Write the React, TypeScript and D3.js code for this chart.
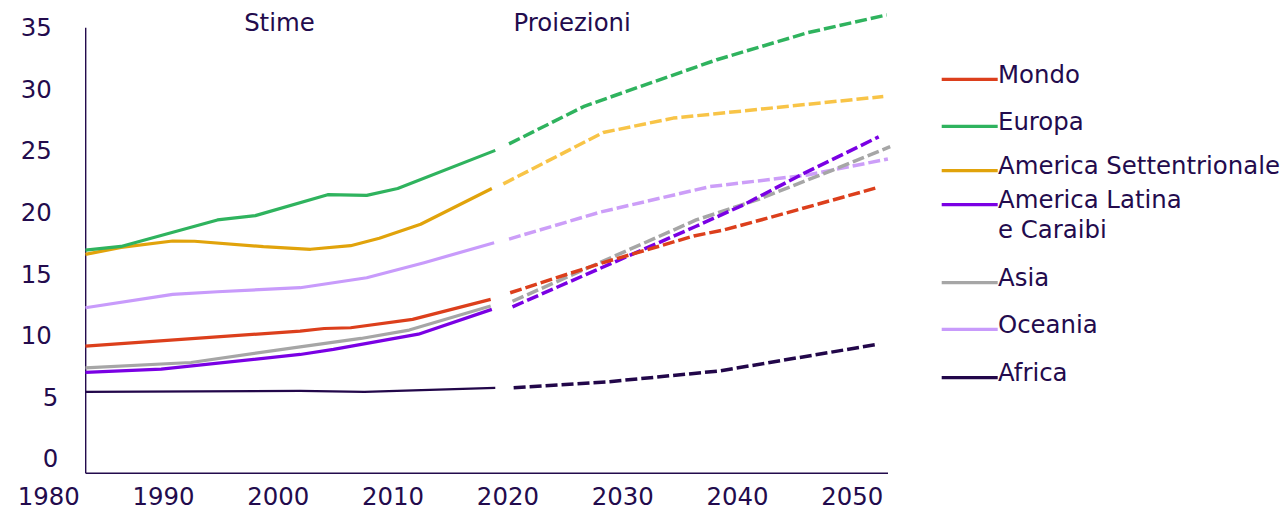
import React from "react";
import * as d3 from "d3";

// Median age by region: estimates (solid) and projections (dashed)
const regions = [
  "Mondo",
  "Europa",
  "America Settentrionale",
  "America Latina e Caraibi",
  "Asia",
  "Oceania",
  "Africa",
];
const legendLines = [
  ["Mondo"],
  ["Europa"],
  ["America Settentrionale"],
  ["America Latina", "e Caraibi"],
  ["Asia"],
  ["Oceania"],
  ["Africa"],
];

const xTicks = [1980, 1990, 2000, 2010, 2020, 2030, 2040, 2050];
const yTicks = [0, 5, 10, 15, 20, 25, 30, 35];
const periodLabels = ["Stime", "Proiezioni"];
const periodYears = [2000.1, 2025.6];

// Estimates
const mondoEstYears = [1983.2, 2001.9, 2004.0, 2006.3, 2011.7, 2018.5];
const mondoEst = [9.1, 10.33, 10.54, 10.6, 11.28, 12.9];
const europaEstYears = [1983.2, 1986.3, 1994.7, 1998.0, 2004.3, 2007.7, 2010.4, 2018.9];
const europaEst = [16.9, 17.2, 19.35, 19.7, 21.4, 21.35, 21.9, 25.0];
const nordAmEstYears = [1983.2, 1986.3, 1990.8, 1992.7, 1998.7, 2002.8, 2006.3, 2008.8, 2012.4, 2018.6];
const nordAmEst = [16.56, 17.13, 17.64, 17.62, 17.18, 16.97, 17.26, 17.86, 19.0, 21.9];
const latAmEstYears = [1983.2, 1989.8, 2001.9, 2004.8, 2012.2, 2018.6];
const latAmEst = [6.97, 7.24, 8.43, 8.84, 10.08, 12.09];
const asiaEstYears = [1983.2, 1992.4, 2001.9, 2007.2, 2011.4, 2018.5];
const asiaEst = [7.34, 7.78, 9.05, 9.73, 10.41, 12.36];
const oceaniaEstYears = [1983.2, 1990.8, 1994.7, 2001.9, 2007.7, 2012.7, 2018.8];
const oceaniaEst = [12.22, 13.31, 13.52, 13.85, 14.66, 15.88, 17.5];
const africaEstYears = [1983.2, 2001.9, 2007.5, 2018.9];
const africaEst = [5.39, 5.47, 5.39, 5.72];

// Projections
const mondoProjYears = [2020.2, 2028.1, 2036.2, 2038.8, 2043.1, 2052.0];
const mondoProj = [13.44, 15.83, 18.05, 18.54, 19.62, 21.93];
const europaProjYears = [2020.1, 2026.7, 2038.2, 2046.1, 2053.0];
const europaProj = [25.53, 28.6, 32.36, 34.55, 36.0];
const nordAmProjYears = [2019.6, 2028.3, 2034.4, 2052.7];
const nordAmProj = [22.28, 26.45, 27.62, 29.37];
const latAmProjYears = [2020.4, 2036.3, 2040.5, 2045.5, 2052.3];
const latAmProj = [12.3, 18.8, 20.57, 23.0, 26.1];
const asiaProjYears = [2020.4, 2036.4, 2041.7, 2048.3, 2053.3];
const asiaProj = [12.75, 19.35, 20.98, 23.4, 25.3];
const oceaniaProjYears = [2020.1, 2028.1, 2037.6, 2046.1, 2053.1];
const oceaniaProj = [17.8, 20.0, 22.06, 23.0, 24.3];
const africaProjYears = [2020.5, 2028.6, 2038.5, 2052.3];
const africaProj = [5.72, 6.2, 7.1, 9.27];

const estYears = [mondoEstYears, europaEstYears, nordAmEstYears, latAmEstYears, asiaEstYears, oceaniaEstYears, africaEstYears];
const estValues = [mondoEst, europaEst, nordAmEst, latAmEst, asiaEst, oceaniaEst, africaEst];
const projYears = [mondoProjYears, europaProjYears, nordAmProjYears, latAmProjYears, asiaProjYears, oceaniaProjYears, africaProjYears];
const projValues = [mondoProj, europaProj, nordAmProj, latAmProj, asiaProj, oceaniaProj, africaProj];

// Styling
const INK = "#230b4d";
const solidColors = ["#dc3f1c", "#2fb35e", "#e1a30b", "#7a00e4", "#a6a6a6", "#c89bfb", "#22074a"];
const dashColors = ["#dc3f1c", "#2fb35e", "#f8c447", "#7a00e4", "#a6a6a6", "#cc9ef8", "#22074a"];
const FONT = "'DejaVu Sans', Verdana, sans-serif";
const FS = 24.4;

const W = 1286;
const H = 510;
const AXIS_X = 85.7;
const AXIS_TOP = 27.7;
const AXIS_BOTTOM = 473.3;
const AXIS_RIGHT = 888;
const LEGEND_Y = [79.3, 126.3, 170.7, 204.7, 282.7, 329.3, 377.7];

export default function App() {
  const x = d3.scaleLinear().domain([1980, 2050]).range([48.7, 852.3]);
  const y = d3.scaleLinear().domain([0, 35]).range([458.3, 27.2]);
  const line = d3
    .line<[number, number]>()
    .x((d) => x(d[0]))
    .y((d) => y(d[1]));

  const order = d3.range(regions.length).reverse();

  return (
    <svg
      width={W}
      height={H}
      viewBox={`0 0 ${W} ${H}`}
      style={{ position: "absolute", left: 0, top: 0, background: "#fff" }}
      fontFamily={FONT}
    >
      {/* axes */}
      <line x1={AXIS_X} x2={AXIS_X} y1={AXIS_TOP} y2={AXIS_BOTTOM} stroke={INK} strokeWidth={1.4} />
      <line x1={AXIS_X} x2={AXIS_RIGHT} y1={AXIS_BOTTOM} y2={AXIS_BOTTOM} stroke={INK} strokeWidth={1.4} />

      {yTicks.map((t) => (
        <text key={t} x={t < 10 ? 58.3 : 51.7} y={y(t) + 9} fontSize={FS} fill={INK} textAnchor="end">
          {t}
        </text>
      ))}
      {xTicks.map((t) => (
        <text key={t} x={x(t)} y={505} fontSize={FS} fill={INK} textAnchor="middle">
          {t}
        </text>
      ))}

      {periodLabels.map((l, i) => (
        <text key={l} x={x(periodYears[i])} y={30.5} fontSize={FS} fill={INK} textAnchor="middle">
          {l}
        </text>
      ))}

      {/* series */}
      {order.map((i) => (
        <g key={regions[i]}>
          <path
            d={line(estYears[i].map((yr, k) => [yr, estValues[i][k]] as [number, number])) || ""}
            fill="none"
            stroke={solidColors[i]}
            strokeWidth={i === 6 ? 2.2 : 3.2}
            strokeLinejoin="round"
          />
          <path
            d={line(projYears[i].map((yr, k) => [yr, projValues[i][k]] as [number, number])) || ""}
            fill="none"
            stroke={dashColors[i]}
            strokeWidth={3.5}
            strokeDasharray="12 4"
            strokeLinejoin="round"
          />
        </g>
      ))}

      {/* legend */}
      {regions.map((r, i) => (
        <g key={r}>
          <line x1={941.7} x2={997.7} y1={LEGEND_Y[i]} y2={LEGEND_Y[i]} stroke={solidColors[i]} strokeWidth={3.2} />
          {legendLines[i].map((txt, j) => (
            <text key={j} x={998} y={LEGEND_Y[i] + 3.3 + j * 29.5} fontSize={FS} fill={INK}>
              {txt}
            </text>
          ))}
        </g>
      ))}
    </svg>
  );
}
